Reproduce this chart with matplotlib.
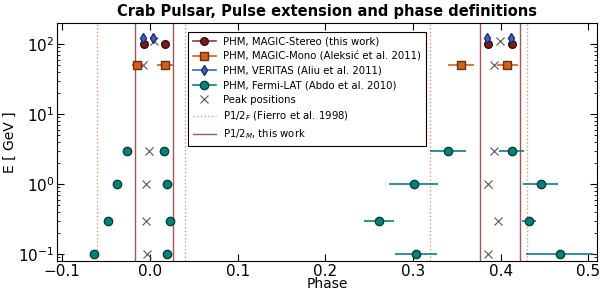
import matplotlib
matplotlib.use("Agg")
import matplotlib.pyplot as plt
from matplotlib.lines import Line2D

# ---- data ----
stereo_phase = [-0.007, 0.0176, 0.386, 0.4125]
stereo_E = [100, 100, 100, 100]
stereo_err = [0.002, 0.002, 0.002, 0.002]

veritas_phase = [-0.008, 0.004, 0.385, 0.412]
veritas_E = [122, 122, 122, 122]
veritas_err = [0.001, 0.001, 0.001, 0.001]

mono_phase = [-0.0144, 0.0168, 0.355, 0.4076]
mono_E = [50, 50, 50, 50]
mono_err = [0.006, 0.009, 0.015, 0.012]

fermi_E = [3, 1, 0.3, 0.1]
fermi_p1l = [-0.026, -0.038, -0.0475, -0.0635]
fermi_p1l_err = [0.002, 0.001, 0.001, 0.001]
fermi_p1r = [0.0157, 0.0195, 0.0225, 0.0195]
fermi_p1r_err = [0.004, 0.002, 0.002, 0.002]
fermi_p2l = [0.340, 0.301, 0.2615, 0.303]
fermi_p2l_err = [0.020, 0.028, 0.017, 0.024]
fermi_p2r = [0.4125, 0.4457, 0.4327, 0.4673]
fermi_p2r_err = [0.014, 0.020, 0.008, 0.038]

peak_phase = [0.005, -0.008, -0.001, -0.004, -0.004, -0.003,
              0.399, 0.392, 0.393, 0.386, 0.3966, 0.386]
peak_E = [110, 50, 3, 1, 0.3, 0.1,
          110, 50, 3, 1, 0.3, 0.1]

fierro_lines = [-0.06, 0.04, 0.32, 0.43]
magic_lines = [-0.017, 0.026, 0.377, 0.422]

labels = ["PHM, MAGIC-Stereo (this work)",
          "PHM, MAGIC-Mono (Aleksić et al. 2011)",
          "PHM, VERITAS (Aliu et al. 2011)",
          "PHM, Fermi-LAT (Abdo et al. 2010)",
          "Peak positions",
          r"P1/2$_{F}$ (Fierro et al. 1998)",
          r"P1/2$_{M}$, this work"]

c_stereo = "#7a1c1c"
c_stereo_line = "#8c3a3a"
c_mono = "#d2601a"
c_ver = "#3a66c8"
c_fermi = "#0a8078"
c_peak = "#555555"
c_fierro = "#e09a70"
c_magic = "#a05858"

fig = plt.figure(figsize=(6.0, 2.93), dpi=100)
ax = fig.add_axes([0.095, 0.109, 0.900, 0.812])
ax.set_yscale("log")

for x in fierro_lines:
    ax.axvline(x, color=c_fierro, ls=":", lw=1.0, zorder=1)
for x in magic_lines:
    ax.axvline(x, color=c_magic, ls="-", lw=1.0, zorder=1)

ms = 5.5
ax.errorbar(stereo_phase, stereo_E, xerr=stereo_err, fmt="o", color=c_stereo,
            mfc=c_stereo, mec="#3a0c0c", ms=ms, ecolor=c_stereo_line, elinewidth=1.2, zorder=3)
ax.errorbar(mono_phase, mono_E, xerr=mono_err, fmt="s", color=c_mono,
            mfc=c_mono, mec="#6a3010", ms=ms, ecolor=c_mono, elinewidth=1.2, zorder=3)
ax.errorbar(veritas_phase, veritas_E, xerr=veritas_err, fmt="d", color=c_ver,
            mfc=c_ver, mec="#1a2a6a", ms=ms, ecolor=c_ver, elinewidth=1.2, zorder=3)
for ph, er in [(fermi_p1l, fermi_p1l_err), (fermi_p1r, fermi_p1r_err),
               (fermi_p2l, fermi_p2l_err), (fermi_p2r, fermi_p2r_err)]:
    ax.errorbar(ph, fermi_E, xerr=er, fmt="o", color=c_fermi, mfc=c_fermi,
                mec="#03403c", ms=ms + 0.5, ecolor=c_fermi, elinewidth=1.2, zorder=3)
h_pk, = ax.plot(peak_phase, peak_E, "x", color=c_peak, ms=6, mew=0.8, ls="none", zorder=2)

h_st = Line2D([], [], color=c_stereo_line, lw=1.2, marker="o", mfc=c_stereo, mec="#3a0c0c", ms=ms)
h_mo = Line2D([], [], color=c_mono, lw=1.2, marker="s", mfc=c_mono, mec="#6a3010", ms=ms)
h_ve = Line2D([], [], color=c_ver, lw=1.2, marker="d", mfc=c_ver, mec="#1a2a6a", ms=ms)
h_fe = Line2D([], [], color=c_fermi, lw=1.2, marker="o", mfc=c_fermi, mec="#03403c", ms=ms + 0.5)
h_f = Line2D([], [], color=c_fierro, ls=":", lw=1.0)
h_m = Line2D([], [], color=c_magic, ls="-", lw=1.0)

leg = ax.legend([h_st, h_mo, h_ve, h_fe, h_pk, h_f, h_m], labels,
                loc="upper left", bbox_to_anchor=(0.243, 0.963), borderaxespad=0,
                fontsize=7.3, fancybox=False, framealpha=1, edgecolor="black",
                handlelength=2.3, handletextpad=0.7, labelspacing=0.45, borderpad=0.45)
leg.get_frame().set_linewidth(0.8)

ax.set_xlim(-0.106, 0.51)
ax.set_ylim(0.08, 200)
ax.set_xticks([-0.1, 0.0, 0.1, 0.2, 0.3, 0.4, 0.5])
ax.tick_params(which="both", direction="in", top=True, right=True)
ax.tick_params(which="major", length=5, labelsize=11, pad=2)
ax.tick_params(which="minor", length=2.5)
ax.set_xlabel("Phase", fontsize=10, labelpad=-1)
ax.set_ylabel("E [ GeV ]", fontsize=10)
ax.yaxis.set_label_coords(-0.074, 0.5)
ax.set_title("Crab Pulsar, Pulse extension and phase definitions",
             fontsize=10.5, fontweight="bold", pad=5)

fig.savefig("out.png", dpi=100)
